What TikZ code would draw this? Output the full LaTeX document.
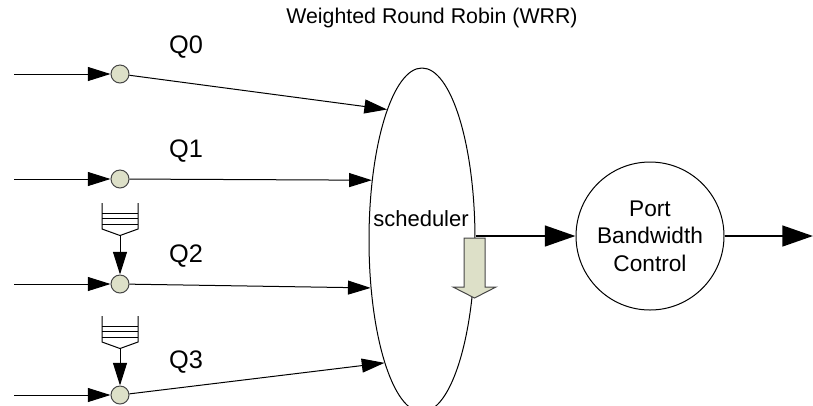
\documentclass[tikz,border=0pt]{standalone}
\usepackage{fontspec}
\setmainfont{Liberation Sans}
\usetikzlibrary{arrows.meta,shapes.geometric}
\definecolor{qfill}{RGB}{221,224,200}
\definecolor{qedge}{RGB}{70,70,70}
\tikzset{
    fifo/.pic={
        \draw (-18,-26) -- (-18,0) -- (0,6.5) -- (18,0) -- (18,-26);
        \draw (-18,-16) -- (18,-16) (-18,-10.5) -- (18,-10.5) (-18,-5) -- (18,-5);
        \coordinate (-tip) at (0,6.5);
    }
}

\begin{document}
\begin{tikzpicture}[x=0.75pt,y=-0.75pt,line width=0.75pt,
    tip/.style={-{Triangle[length=17pt,width=10.5pt]}},
    bigtip/.style={-{Triangle[length=23pt,width=15.5pt]},line width=1.9pt},
    qdot/.style={circle,draw=qedge,fill=qfill,minimum size=13.5pt,inner sep=0pt},
    qlabel/.style={font=\fontsize{19}{22}\selectfont}]
    \path [use as bounding box] (0,0) rectangle (813,405);
    \node [font=\fontsize{16}{19}\selectfont] (title) at (432,18) {Weighted Round Robin (WRR)};
    \node [ellipse,draw,minimum width=79.5pt,minimum height=258pt,inner sep=0pt] (sched) at (422,240) {};
    \node [font=\fontsize{16.5}{19}\selectfont] (schedlbl) at (421,219) {scheduler};
    % queues Q0..Q3
    \foreach \i/\y/\ly/\a in {0/74/47/105, 1/179/151/130, 2/284/256/-137, 3/395/362/-107} {
        \coordinate (in\i) at (14,\y);
        \node [qdot] (q\i) at (120,\y) {};
        \node [qlabel] (lbl\i) at (186,\ly) {Q\i};
        \draw [tip] (in\i) -- (q\i);
        \draw [tip] (q\i) -- (sched.\a);
    }
    \pic (buf2) at (120,229) {fifo};
    \pic (buf3) at (120,342) {fifo};
    \draw [tip] (buf2-tip) -- (q2);
    \draw [tip] (buf3-tip) -- (q3);
    % down arrow
    \draw [draw=qedge,fill=qfill] (464,238) -- (485,238) -- (485,287) -- (496,287)
        -- (474.5,298) -- (453,287) -- (464,287) -- cycle;
    \node [circle,draw,minimum size=111pt,inner sep=0pt,align=center,
        font=\fontsize{17}{20.5}\selectfont] (port) at (650,236) {Port\\Bandwidth\\Control};
    \coordinate (out) at (813,236);
    \draw [bigtip] (sched.east |- port.west) -- (port.west);
    \draw [bigtip] (port.east) -- (out);
\end{tikzpicture}
\end{document}
